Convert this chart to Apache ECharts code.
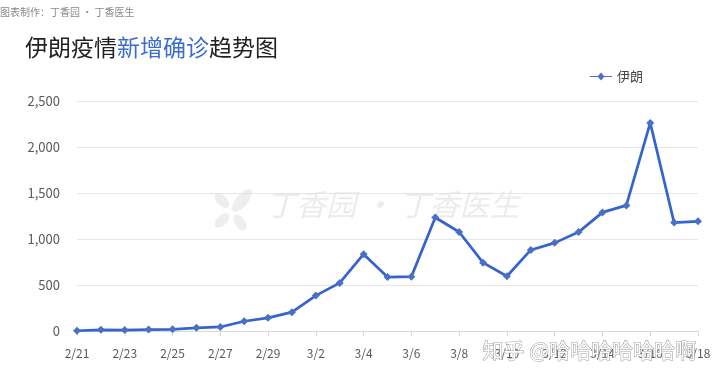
<!DOCTYPE html>
<html>
<head>
<meta charset="utf-8">
<script src="https://cdn.jsdelivr.net/npm/echarts@6/dist/echarts.min.js"></script>
<style>html,body{margin:0;padding:0;background:#fff;}#c{width:720px;height:382px;}</style>
</head>
<body>
<div id="c"></div>
<script>
const categories = ['2/21','2/22','2/23','2/24','2/25','2/26','2/27','2/28','2/29','3/1','3/2','3/3','3/4','3/5','3/6','3/7','3/8','3/9','3/10','3/11','3/12','3/13','3/14','3/15','3/16','3/17','3/18'];
const seriesName = '伊朗';
const values = [3, 13, 10, 15, 18, 34, 44, 106, 143, 205, 385, 523, 835, 586, 591, 1234, 1076, 743, 595, 881, 958, 1075, 1289, 1365, 2262, 1178, 1192];
const yTicks = [0, 500, 1000, 1500, 2000, 2500];

const FONT = '"Noto Sans CJK SC", "Noto Sans", sans-serif';
const chart = echarts.init(document.getElementById('c'), null, {renderer: 'canvas'});
const blue = '#3563d0';
chart.setOption({
  animation: false,
  backgroundColor: '#fff',
  textStyle: {fontFamily: FONT},
  grid: {left: 77, right: 22, top: 101, bottom: 51, containLabel: false},
  legend: {
    show: true, right: 72, top: 65, itemWidth: 22, itemHeight: 8, itemGap: 4,
    textStyle: {fontSize: 13, color: '#444', fontFamily: FONT},
    data: [{name: seriesName, icon: 'path://M0,3.5 L8,3.5 L11,0 L14,3.5 L22,3.5 L22,4.5 L14,4.5 L11,8 L8,4.5 L0,4.5 Z'}]
  },
  graphic: [
    {type: 'text', left: 0, top: 7, style: {text: '图表制作：丁香园 · 丁香医生', fill: '#8a8a8a', font: '10px ' + FONT}},
    {type: 'text', left: 25, top: 36, style: {
      text: '{a|伊朗疫情}{b|新增确诊}{a|趋势图}',
      rich: {a: {fill: '#222', fontSize: 23, fontFamily: FONT}, b: {fill: '#3a6bd0', fontSize: 23, fontFamily: FONT}}
    }},
    {type: 'group', left: 212, top: 186, z: -1, children: [
      {type: 'ellipse', shape: {cx: 30, cy: 12, rx: 6, ry: 14}, rotation: -0.7, originX: 30, originY: 12, style: {fill: '#eeeeee'}},
      {type: 'ellipse', shape: {cx: 10, cy: 12, rx: 5, ry: 9}, rotation: 0.8, originX: 10, originY: 12, style: {fill: '#eeeeee'}},
      {type: 'ellipse', shape: {cx: 10, cy: 32, rx: 5, ry: 9}, rotation: -0.8, originX: 10, originY: 32, style: {fill: '#eeeeee'}},
      {type: 'ellipse', shape: {cx: 28, cy: 34, rx: 5, ry: 9}, rotation: 0.6, originX: 28, originY: 34, style: {fill: '#eeeeee'}}
    ]},
    {type: 'text', left: 266, top: 190, z: -1, style: {text: '丁香园 · 丁香医生', fill: '#ececec', font: 'italic 30px ' + FONT}},
    {type: 'text', left: 482, top: 339, z: 100, style: {text: '知乎 @哈哈哈哈哈哈啊', fill: '#ffffff', stroke: '#9a9a9a', lineWidth: 1, font: '21px ' + FONT}}
  ],
  xAxis: {
    type: 'category', data: categories, boundaryGap: false,
    axisLine: {lineStyle: {color: '#d9d9d9'}},
    axisTick: {show: true, interval: 1, length: 5, lineStyle: {color: '#d9d9d9'}},
    axisLabel: {interval: 1, color: '#595959', fontSize: 12, margin: 16, fontFamily: FONT}
  },
  yAxis: {
    type: 'value', min: yTicks[0], max: yTicks[yTicks.length - 1], interval: 500,
    axisLine: {show: false}, axisTick: {show: false},
    splitLine: {lineStyle: {color: '#e6e6e6'}},
    axisLabel: {color: '#595959', fontSize: 13, margin: 17, fontFamily: FONT,
      formatter: v => v.toLocaleString('en-US')}
  },
  series: [{
    name: seriesName, type: 'line', data: values,
    symbol: 'diamond', symbolSize: 8, showAllSymbol: true,
    lineStyle: {color: blue, width: 2.7},
    itemStyle: {color: '#4a70c4'}
  }]
});
</script>
</body>
</html>
